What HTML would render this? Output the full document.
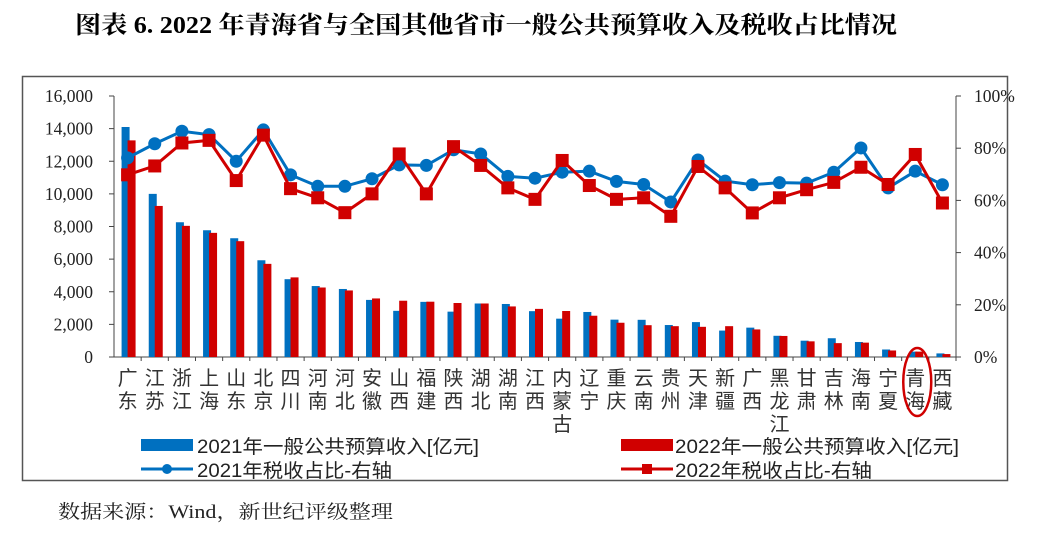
<!DOCTYPE html>
<html><head><meta charset="utf-8"><style>
body{margin:0;width:1060px;height:532px;background:#fff;overflow:hidden;font-family:"Liberation Serif","Noto Serif CJK SC",serif}
</style></head><body>
<svg width="1060" height="532" xmlns="http://www.w3.org/2000/svg">
<text x="75" y="33" textLength="822" lengthAdjust="spacingAndGlyphs" font-size="24" font-weight="bold" font-family="Liberation Serif,Noto Serif CJK SC,serif">图表 6. 2022 年青海省与全国其他省市一般公共预算收入及税收占比情况</text>
<rect x="22.5" y="76.5" width="985" height="404" fill="none" stroke="#555" stroke-width="1.5"/>
<g id="g"></g>
<text x="58" y="518" font-size="19" textLength="335" lengthAdjust="spacingAndGlyphs" font-family="Liberation Serif,Noto Serif CJK SC,serif" fill="#222">数据来源：Wind，新世纪评级整理</text>
</svg>
<script>
const categories=["广东","江苏","浙江","上海","山东","北京","四川","河南","河北","安徽","山西","福建","陕西","湖北","湖南","江西","内蒙古","辽宁","重庆","云南","贵州","天津","新疆","广西","黑龙江","甘肃","吉林","海南","宁夏","青海","西藏"];
const rev2021=[14100,10000,8260,7770,7280,5930,4770,4350,4170,3500,2830,3380,2780,3280,3250,2810,2350,2760,2290,2280,1960,2140,1620,1800,1300,1000,1150,920,460,330,220];
const rev2022=[13280,9260,8040,7610,7100,5710,4880,4260,4080,3590,3450,3390,3310,3280,3100,2950,2820,2530,2100,1950,1890,1850,1890,1690,1290,960,850,880,400,330,180];
const tax2021=[76.3,81.7,86.5,85.2,75,87,69.8,65.4,65.4,68.3,73.6,73.4,79.4,77.8,69.2,68.5,70.8,71.2,67.3,66.1,59.4,75.5,67.4,66,66.8,66.6,70.8,80.1,64.8,71.2,66];
const tax2022=[69.8,73.2,82,83,67.6,85,64.5,61,55.3,62.5,77.8,62.5,80.6,73.4,64.8,60.4,75.3,65.7,60.4,61,53.9,73,64.8,55.2,61,64.1,66.9,72.7,66.1,77.6,59];
const leftTicks=[0,2000,4000,6000,8000,10000,12000,14000,16000];
const rightTicks=[0,20,40,60,80,100];
const NS="http://www.w3.org/2000/svg",g=document.getElementById('g');
const X0=114,X1=956,Y0=357,Y1=96,cw=(X1-X0)/categories.length;
const cx=i=>X0+cw*(i+0.5);
const yL=v=>Y0-(v/16000)*(Y0-Y1);
const yR=v=>Y0-(v/100)*(Y0-Y1);
function mk(t,a,txt){const e=document.createElementNS(NS,t);for(const k in a)e.setAttribute(k,a[k]);if(txt!==undefined)e.textContent=txt;g.appendChild(e);return e;}
let e;
e=mk('line',{x1:X0,y1:Y1,x2:X0,y2:Y0,stroke:'#444'});


e=mk('line',{x1:X1,y1:Y1,x2:X1,y2:Y0,stroke:'#444'});


e=mk('line',{x1:X0,y1:Y0,x2:X1,y2:Y0,stroke:'#444'});


leftTicks.forEach(v=>{mk('line',{x1:X0-5,y1:yL(v),x2:X0,y2:yL(v),stroke:'#444'});
e=mk('text',{x:X0-21,y:yL(v)+6,'text-anchor':'end','font-size':17.5,fill:'#222'},v.toLocaleString('en-US'));

});
rightTicks.forEach(v=>{mk('line',{x1:X1,y1:yR(v),x2:X1+5,y2:yR(v),stroke:'#444'});
e=mk('text',{x:X1+18,y:yR(v)+6,'font-size':17.5,fill:'#222'},v+'%');

});
categories.forEach((c,i)=>{
mk('line',{x1:X0+cw*(i+1),y1:Y0,x2:X0+cw*(i+1),y2:Y0+4,stroke:'#444'});
e=mk('rect',{x:cx(i)-6,y:yL(rev2021[i]),width:8,height:Y0-yL(rev2021[i]),fill:'#0070c0'});


e=mk('rect',{x:cx(i),y:yL(rev2022[i]),width:8,height:Y0-yL(rev2022[i]),fill:'#d00000'});


[...c].forEach((ch,j)=>{e=mk('text',{x:cx(i),y:385+j*23,'text-anchor':'middle','font-size':20,fill:'#333','font-family':'Liberation Sans,Noto Sans CJK SC,sans-serif'},ch);

});
});
e=mk('polyline',{points:tax2021.map((v,i)=>cx(i)+','+yR(v)).join(' '),fill:'none',stroke:'#0070c0','stroke-width':3});


tax2021.forEach((v,i)=>{e=mk('circle',{cx:cx(i),cy:yR(v),r:6.5,fill:'#0070c0'});

});
e=mk('polyline',{points:tax2022.map((v,i)=>cx(i)+','+yR(v)).join(' '),fill:'none',stroke:'#d00000','stroke-width':3});


tax2022.forEach((v,i)=>{e=mk('rect',{x:cx(i)-6.5,y:yR(v)-6.5,width:13,height:13,fill:'#d00000'});

});
e=mk('ellipse',{cx:cx(29)+2,cy:382,rx:14,ry:34,fill:'none',stroke:'#d00000','stroke-width':2.5});


// legend
const lf={'font-size':19,fill:'#222','font-family':'Liberation Sans,Noto Sans CJK SC,sans-serif',lengthAdjust:'spacingAndGlyphs'};
e=mk('rect',{x:141,y:439,width:52,height:12,fill:'#0070c0'});


e=mk('text',Object.assign({x:197,y:453,textLength:282},lf),'2021年一般公共预算收入[亿元]');


e=mk('rect',{x:621,y:439,width:52,height:12,fill:'#d00000'});


e=mk('text',Object.assign({x:675,y:453,textLength:284},lf),'2022年一般公共预算收入[亿元]');


mk('line',{x1:141,y1:469,x2:193,y2:469,stroke:'#0070c0','stroke-width':3});
e=mk('circle',{cx:167,cy:469,r:5,fill:'#0070c0'});


e=mk('text',Object.assign({x:197,y:477,textLength:195},lf),'2021年税收占比-右轴');


mk('line',{x1:621,y1:469,x2:673,y2:469,stroke:'#d00000','stroke-width':3});
e=mk('rect',{x:642,y:464,width:10,height:10,fill:'#d00000'});


e=mk('text',Object.assign({x:675,y:477,textLength:197},lf),'2022年税收占比-右轴');


</script>
</body></html>
